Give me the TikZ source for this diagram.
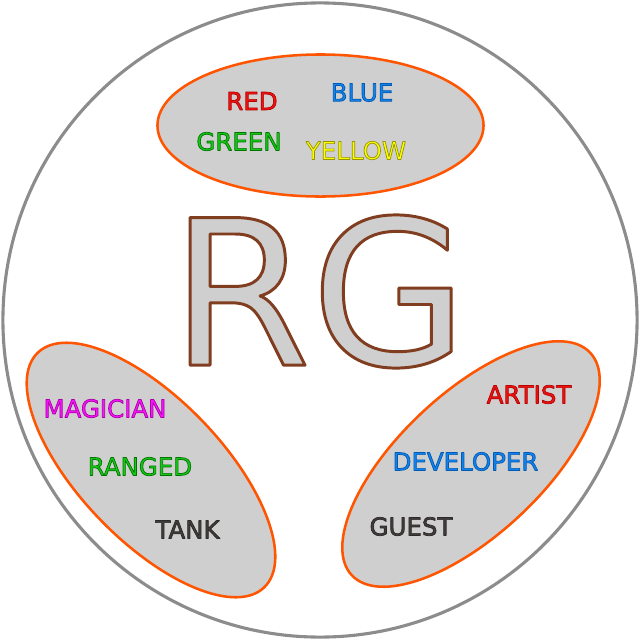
\documentclass[tikz,border=0pt]{standalone}
\usepackage{fontspec}
\setmainfont{DejaVu Sans}
\usepackage{xcolor}
\usetikzlibrary{shapes.geometric}

\definecolor{ringgray}{RGB}{140,140,140}
\definecolor{blobfill}{RGB}{207,207,207}
\definecolor{blobline}{RGB}{255,85,0}
\definecolor{redF}{RGB}{235,20,20}
\definecolor{blueF}{RGB}{20,130,235}
\definecolor{greenF}{RGB}{20,200,20}
\definecolor{yellowF}{RGB}{255,255,0}
\definecolor{magF}{RGB}{250,20,250}
\definecolor{darkF}{RGB}{65,60,60}

% filled letters with a darker rim: [rim width]{fill}{rim rgb}{text}
\newcommand{\rimtext}[4][.5]{{\color{#2}%
  \special{pdf:literal direct 2 Tr #1 w 1 j #3 RG}#4\special{pdf:literal direct 0 Tr}}}

\tikzset{
  group/.style={
    ellipse,
    draw=blobline,
    fill=blobfill,
    line width=1.8pt,
    minimum width=8.15cm,
    minimum height=3.55cm,
    inner sep=0pt
  },
  tag/.style={
    inner sep=0pt,
    font=\fontsize{17.4}{18}\selectfont
  }
}

\begin{document}
\begin{tikzpicture}[x=0.025cm,y=-0.025cm]
  \useasboundingbox (0,0) rectangle (640,640);
  \node[circle, draw=ringgray, fill=white, line width=2.2pt, minimum size=15.85cm, inner sep=0pt] (ring) at (320,320) {};

  \node[group] (colours) at (320.5,125.5) {};
  \node[group, rotate=-46] (classes) at (151,470) {};
  \node[group, rotate=43] (roles) at (471,464) {};

  \node[inner sep=0pt, font=\fontsize{144}{144}\selectfont] (logo) at (319,291.5) {\rimtext[2.1]{blobfill}{.5 .24 .12}{RG}};

  \node[tag] (red) at (252,101) {\rimtext{redF}{.72 0 0}{RED}};
  \node[tag] (blue) at (362,92.5) {\rimtext{blueF}{0 .35 .7}{BLUE}};
  \node[tag] (green) at (239,141.5) {\rimtext{greenF}{0 .45 0}{GREEN}};
  \node[tag] (yellow) at (356,150.5) {\rimtext{yellowF}{.58 .58 0}{YELLOW}};

  \node[tag] (magician) at (105,408.5) {\rimtext{magF}{.66 0 .66}{MAGICIAN}};
  \node[tag] (ranged) at (140,466.5) {\rimtext{greenF}{0 .45 0}{RANGED}};
  \node[tag] (tank) at (187.5,529.5) {\rimtext{darkF}{.18 .16 .16}{TANK}};

  \node[tag] (artist) at (529,394.5) {\rimtext{redF}{.72 0 0}{ARTIST}};
  \node[tag] (developer) at (465.5,461.5) {\rimtext{blueF}{0 .35 .7}{DEVELOPER}};
  \node[tag] (guest) at (411,526.5) {\rimtext{darkF}{.18 .16 .16}{GUEST}};
\end{tikzpicture}
\end{document}
